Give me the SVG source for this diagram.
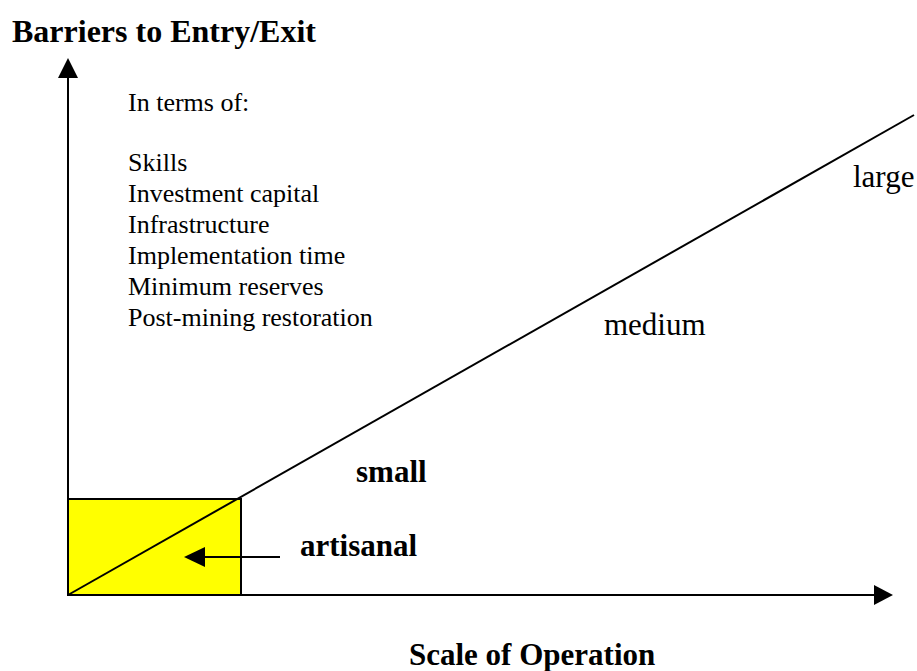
<svg xmlns="http://www.w3.org/2000/svg" width="917" height="671" viewBox="0 0 917 671">
<style>
.ax{stroke:#000;stroke-width:2;fill:none}
.t{font-family:"Liberation Serif","Times New Roman",serif;fill:#000}
.b{font-weight:bold;font-size:31px}
.r{font-size:31px}
.s{font-size:26px}
</style>
<rect width="917" height="671" fill="#fff"/>
<g id="artisanal-box">
<rect x="68" y="499" width="173" height="96" fill="#ffff00" stroke="#000" stroke-width="2"/>
</g>
<g id="connectors">
<line class="ax" x1="68" y1="595" x2="68" y2="76"/>
<polygon points="68,58 58,78 78,78" fill="#000"/>
<line class="ax" x1="68" y1="595" x2="876" y2="595"/>
<polygon points="893,595 874,585 874,605" fill="#000"/>
<line class="ax" x1="68" y1="595" x2="914" y2="115"/>
<line class="ax" x1="280" y1="557" x2="203" y2="557"/>
<polygon points="184,557 205,547 205,567" fill="#000"/>
</g>
<g id="y-label"><text class="t b" x="12" y="42" style="font-size:32px">Barriers to Entry/Exit</text></g>
<g id="x-label"><text class="t b" x="409" y="665">Scale of Operation</text></g>
<g id="terms">
<text class="t s" x="128" y="111">In terms of:</text>
<text class="t s" x="128" y="171">Skills</text>
<text class="t s" x="128" y="202">Investment capital</text>
<text class="t s" x="128" y="233">Infrastructure</text>
<text class="t s" x="128" y="264">Implementation time</text>
<text class="t s" x="128" y="295">Minimum reserves</text>
<text class="t s" x="128" y="326">Post-mining restoration</text>
</g>
<g id="large"><text class="t r" x="853" y="187">large</text></g>
<g id="medium"><text class="t r" x="604" y="335">medium</text></g>
<g id="small"><text class="t b" x="356" y="482">small</text></g>
<g id="artisanal"><text class="t b" x="300" y="556">artisanal</text></g>
</svg>
